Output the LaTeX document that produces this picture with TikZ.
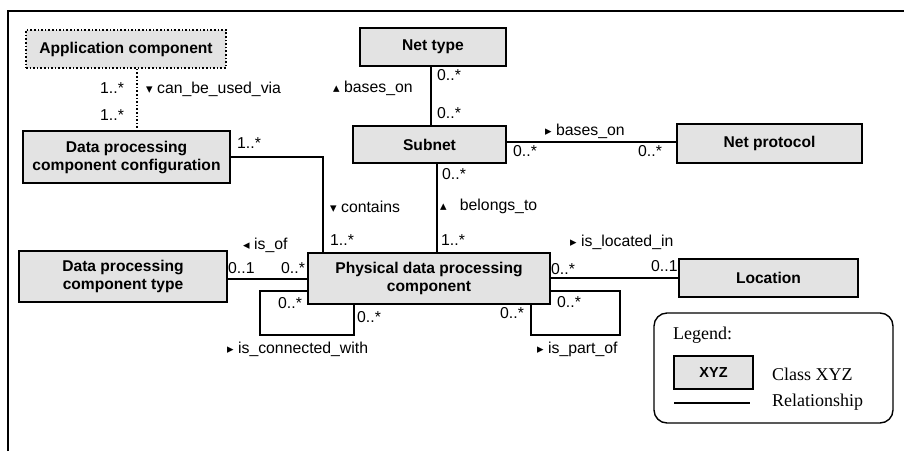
\documentclass[tikz,border=0pt]{standalone}
\usepackage{fontspec}
\newfontfamily\sansf{Liberation Sans}
\newfontfamily\serf{Liberation Serif}
\newfontfamily\symf{DejaVu Sans}
\begin{document}
\begin{tikzpicture}[x=1pt,y=-1pt,
  cls/.style={draw,line width=1.6pt,fill=gray!22,align=center,inner sep=0pt,
    font=\sansf\bfseries\fontsize{15.6}{18}\selectfont},
  rel/.style={line width=1.6pt},
  lbl/.style={anchor=west,inner sep=0pt,font=\sansf\fontsize{15.8}{18}\selectfont},
  lgd/.style={anchor=west,inner sep=0pt,font=\serf\fontsize{18}{20}\selectfont}]
\newcommand{\tdn}{{\symf\fontsize{13}{13}\selectfont ▾}}
\newcommand{\tup}{{\symf\fontsize{13}{13}\selectfont ▴}}
\newcommand{\trt}{{\symf\fontsize{13}{13}\selectfont ▸}}
\newcommand{\tlt}{{\symf\fontsize{13}{13}\selectfont ◂}}
\useasboundingbox (0,0) rectangle (904,451);
\fill[white] (0,0) rectangle (904,451);
% frame
\coordinate (f0) at (8,451);
\coordinate (f1) at (8,11);
\coordinate (f2) at (904,11);
\draw[line width=1.5pt] (f0) -- (f1) -- (f2);

% classes
\node[cls,dotted,minimum width=200,minimum height=38] (app) at (126,49) {Application component};
\node[cls,minimum width=207,minimum height=52] (cfg) at (126.5,157) {Data processing\\component configuration};
\node[cls,minimum width=146,minimum height=38] (nettype) at (433,47) {Net type};
\node[cls,minimum width=153,minimum height=37] (subnet) at (429.5,144.5) {Subnet};
\node[cls,minimum width=185,minimum height=39] (netproto) at (769.5,143.5) {Net protocol};
\node[cls,minimum width=208,minimum height=51] (dtype) at (123,276.5) {Data processing\\component type};
\node[cls,minimum width=242,minimum height=51] (pdpc) at (429,278.5) {Physical data processing\\component};
\node[cls,minimum width=179,minimum height=38] (loc) at (768.5,278) {Location};

% helper coordinates
\coordinate (xa) at (137,0);
\coordinate (xb) at (323,0);
\coordinate (xc) at (431,0);
\coordinate (xd) at (437,0);
\coordinate (ya) at (0,142);
\coordinate (yb) at (0,279);
\coordinate (yc) at (0,278);
\coordinate (yd) at (0,291);
\coordinate (la) at (260,291);
\coordinate (lb) at (260,335);
\coordinate (lc) at (354,335);
\coordinate (ra) at (531,335);
\coordinate (rb) at (620,335);
\coordinate (rc) at (620,291);

% connectors
\draw[rel,dotted] (app.south -| xa) -- (cfg.north -| xa);
\draw[rel] (cfg.east) -| (xb |- pdpc.north);
\draw[rel] (nettype.south -| xc) -- (subnet.north -| xc);
\draw[rel] (subnet.east |- ya) -- (netproto.west |- ya);
\draw[rel] (subnet.south -| xd) -- (pdpc.north -| xd);
\draw[rel] (dtype.east |- yb) -- (pdpc.west |- yb);
\draw[rel] (pdpc.east |- yc) -- (loc.west |- yc);
\draw[rel] (pdpc.west |- yd) -- (la) -- (lb) -- (lc) -- (lc |- pdpc.south);
\draw[rel] (ra |- pdpc.south) -- (ra) -- (rb) -- (rc) -- (pdpc.east |- rc);

% labels
\node[lbl] (m1) at (100,88) {1..*};
\node[lbl] (m2) at (100,115) {1..*};
\node[lbl] (r1) at (146,89) {\tdn\ can\_be\_used\_via};
\node[lbl] (m3) at (237,143) {1..*};
\node[lbl] (m4) at (437,75) {0..*};
\node[lbl] (m5) at (437,113) {0..*};
\node[lbl] (r2) at (333,88) {\tup\ bases\_on};
\node[lbl] (r3) at (545,131) {\trt\ bases\_on};
\node[lbl] (m6) at (513,151) {0..*};
\node[lbl] (m7) at (638,151) {0..*};
\node[lbl] (m8) at (442,174) {0..*};
\node[lbl] (r4) at (330,207) {\tdn\ contains};
\node[lbl] (r5) at (440,206) {\tup\ \ \ belongs\_to};
\node[lbl] (m9) at (330,240) {1..*};
\node[lbl] (m10) at (441,240) {1..*};
\node[lbl] (r6) at (243,245) {\tlt\ is\_of};
\node[lbl] (m11) at (228,268) {0..1};
\node[lbl] (m12) at (281,268) {0..*};
\node[lbl] (m13) at (278,303) {0..*};
\node[lbl] (m14) at (357,317) {0..*};
\node[lbl] (r7) at (227,349) {\trt\ is\_connected\_with};
\node[lbl] (r8) at (570,242) {\trt\ is\_located\_in};
\node[lbl] (m15) at (551,269) {0..*};
\node[lbl] (m16) at (651,266) {0..1};
\node[lbl] (m17) at (500,313) {0..*};
\node[lbl] (m18) at (557,302) {0..*};
\node[lbl] (r9) at (537,349) {\trt\ is\_part\_of};

% legend
\node[draw,line width=1.4pt,rounded corners=13pt,minimum width=239,minimum height=110] (legend) at (773.5,368) {};
\node[lgd] (lt) at (673,335) {Legend:};
\node[cls,minimum width=79,minimum height=33,font=\sansf\bfseries\fontsize{14.5}{17}\selectfont] (xyz) at (713.5,372.5) {XYZ};
\node[lgd] (lc1) at (772,374) {Class XYZ};
\node[lgd] (lc2) at (772,402) {Relationship};
\coordinate (ls) at (674,403);
\coordinate (le) at (750,403);
\draw[rel] (ls) -- (le);
\end{tikzpicture}
\end{document}
